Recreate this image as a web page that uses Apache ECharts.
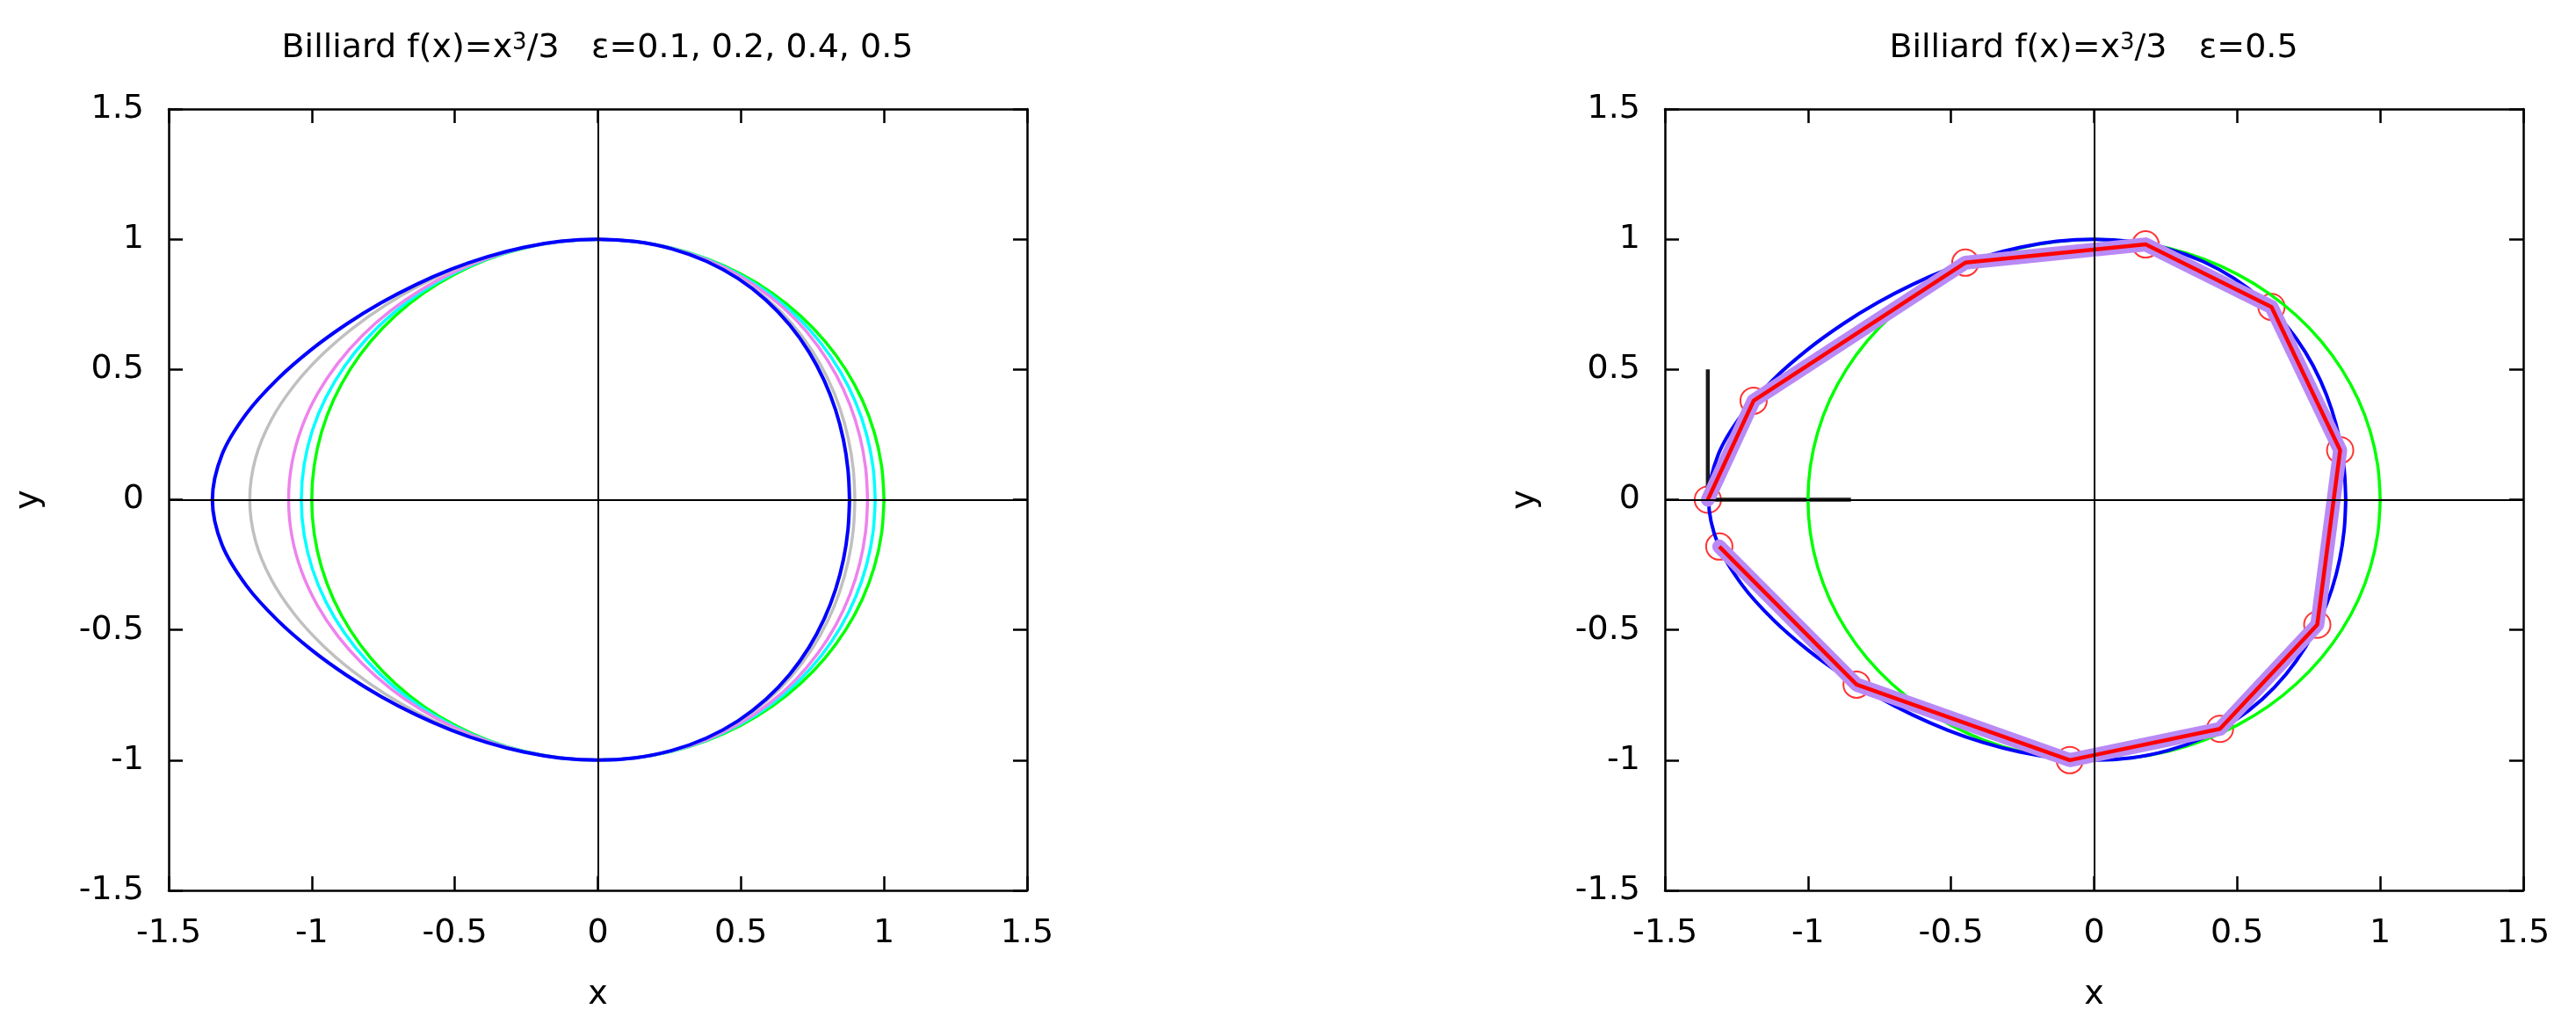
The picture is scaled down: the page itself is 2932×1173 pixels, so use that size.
<!DOCTYPE html>
<html>
<head>
<meta charset="utf-8">
<script src="https://cdn.jsdelivr.net/npm/echarts@6/dist/echarts.min.js"></script>
<style>
html, body { margin: 0; padding: 0; background: #fff; }
#billiard { width: 2932px; height: 1173px; }
</style>
</head>
<body>
<div id="billiard"></div>
<script>
// axis ticks (both panels)
var ticks = [-1.5, -1, -0.5, 0, 0.5, 1, 1.5];

// boundary curves, going round counter-clockwise from the right end
var circleX = [1, 0.9914, 0.9659, 0.9239, 0.8660, 0.7934, 0.7071, 0.6088, 0.5, 0.3827, 0.2588, 0.1305, 0, -0.1305, -0.2588, -0.3827, -0.5, -0.6088, -0.7071, -0.7934, -0.8660, -0.9239, -0.9659, -0.9914, -1,
	-0.9914, -0.9659, -0.9239, -0.8660, -0.7934, -0.7071, -0.6088, -0.5, -0.3827, -0.2588, -0.1305, 0, 0.1305, 0.2588, 0.3827, 0.5, 0.6088, 0.7071, 0.7934, 0.8660, 0.9239, 0.9659, 0.9914, 1];
var circleY = [0, 0.1305, 0.2588, 0.3827, 0.5, 0.6088, 0.7071, 0.7934, 0.8660, 0.9239, 0.9659, 0.9914, 1, 0.9914, 0.9659, 0.9239, 0.8660, 0.7934, 0.7071, 0.6088, 0.5, 0.3827, 0.2588, 0.1305, 0,
	-0.1305, -0.2588, -0.3827, -0.5, -0.6088, -0.7071, -0.7934, -0.8660, -0.9239, -0.9659, -0.9914, -1, -0.9914, -0.9659, -0.9239, -0.8660, -0.7934, -0.7071, -0.6088, -0.5, -0.3827, -0.2588, -0.1305, 0];

var eps01X = [0.9692, 0.9616, 0.9389, 0.9011, 0.8482, 0.7807, 0.6990, 0.6043, 0.4979, 0.3820, 0.2587, 0.1305, 0, -0.1305, -0.2590, -0.3834, -0.5021, -0.6134, -0.7157, -0.8071, -0.8859, -0.9499, -0.9974, -1.0266, -1.0365,
	-1.0266, -0.9974, -0.9499, -0.8859, -0.8071, -0.7157, -0.6134, -0.5021, -0.3834, -0.2590, -0.1305, 0, 0.1305, 0.2587, 0.3820, 0.4979, 0.6043, 0.6990, 0.7807, 0.8482, 0.9011, 0.9389, 0.9616, 0.9692];
var eps01Y = [0, 0.1266, 0.2516, 0.3732, 0.4897, 0.5990, 0.6990, 0.7875, 0.8625, 0.9222, 0.9654, 0.9914, 1, 0.9915, 0.9665, 0.9256, 0.8697, 0.7994, 0.7157, 0.6193, 0.5115, 0.3935, 0.2672, 0.1352, 0,
	-0.1352, -0.2672, -0.3935, -0.5115, -0.6193, -0.7157, -0.7994, -0.8697, -0.9256, -0.9665, -0.9915, -1, -0.9914, -0.9654, -0.9222, -0.8625, -0.7875, -0.6990, -0.5990, -0.4897, -0.3732, -0.2516, -0.1266, 0];

var eps02X = [0.9425, 0.9357, 0.9152, 0.8808, 0.8321, 0.7689, 0.6914, 0.5999, 0.4959, 0.3813, 0.2585, 0.1305, 0, -0.1306, -0.2591, -0.3841, -0.5043, -0.6183, -0.7248, -0.8222, -0.9083, -0.9802, -1.0348, -1.0692, -1.0809,
	-1.0692, -1.0348, -0.9802, -0.9083, -0.8222, -0.7248, -0.6183, -0.5043, -0.3841, -0.2591, -0.1306, 0, 0.1305, 0.2585, 0.3813, 0.4959, 0.5999, 0.6914, 0.7689, 0.8321, 0.8808, 0.9152, 0.9357, 0.9425];
var eps02Y = [0, 0.1232, 0.2452, 0.3648, 0.4804, 0.5900, 0.6914, 0.7818, 0.8590, 0.9205, 0.9648, 0.9913, 1, 0.9916, 0.9671, 0.9274, 0.8734, 0.8058, 0.7248, 0.6309, 0.5244, 0.4060, 0.2773, 0.1408, 0,
	-0.1408, -0.2773, -0.4060, -0.5244, -0.6309, -0.7248, -0.8058, -0.8734, -0.9274, -0.9671, -0.9916, -1, -0.9913, -0.9648, -0.9205, -0.8590, -0.7818, -0.6914, -0.5900, -0.4804, -0.3648, -0.2452, -0.1232, 0];

var eps04X = [0.8982, 0.8925, 0.8753, 0.8460, 0.8038, 0.7478, 0.6772, 0.5917, 0.4920, 0.3799, 0.2582, 0.1305, 0, -0.1306, -0.2594, -0.3856, -0.5087, -0.6286, -0.7451, -0.8574, -0.9639, -1.0608, -1.1416, -1.1968, -1.2167,
	-1.1968, -1.1416, -1.0608, -0.9639, -0.8574, -0.7451, -0.6286, -0.5087, -0.3856, -0.2594, -0.1306, 0, 0.1305, 0.2582, 0.3799, 0.4920, 0.5917, 0.6772, 0.7478, 0.8038, 0.8460, 0.8753, 0.8925, 0.8982];
var eps04Y = [0, 0.1175, 0.2345, 0.3504, 0.4641, 0.5738, 0.6772, 0.7711, 0.8522, 0.9171, 0.9637, 0.9912, 1, 0.9917, 0.9682, 0.9309, 0.8811, 0.8192, 0.7451, 0.6579, 0.5565, 0.4394, 0.3059, 0.1576, 0,
	-0.1576, -0.3059, -0.4394, -0.5565, -0.6579, -0.7451, -0.8192, -0.8811, -0.9309, -0.9682, -0.9917, -1, -0.9912, -0.9637, -0.9171, -0.8522, -0.7711, -0.6772, -0.5738, -0.4641, -0.3504, -0.2345, -0.1175, 0];

var eps05X = [0.8794, 0.8741, 0.8582, 0.8309, 0.7913, 0.7382, 0.6706, 0.5878, 0.4901, 0.3792, 0.2581, 0.1305, 0, -0.1306, -0.2596, -0.3863, -0.5110, -0.6341, -0.7564, -0.8784, -1.0000, -1.1190, -1.2289, -1.3137, -1.3473,
	-1.3137, -1.2289, -1.1190, -1.0000, -0.8784, -0.7564, -0.6341, -0.5110, -0.3863, -0.2596, -0.1306, 0, 0.1305, 0.2581, 0.3792, 0.4901, 0.5878, 0.6706, 0.7382, 0.7913, 0.8309, 0.8582, 0.8741, 0.8794];
var eps05Y = [0, 0.1151, 0.2300, 0.3442, 0.4569, 0.5665, 0.6706, 0.7660, 0.8489, 0.9154, 0.9632, 0.9911, 1, 0.9918, 0.9687, 0.9327, 0.8851, 0.8264, 0.7564, 0.6740, 0.5774, 0.4635, 0.3293, 0.1730, 0,
	-0.1730, -0.3293, -0.4635, -0.5774, -0.6740, -0.7564, -0.8264, -0.8851, -0.9327, -0.9687, -0.9918, -1, -0.9911, -0.9632, -0.9154, -0.8489, -0.7660, -0.6706, -0.5665, -0.4569, -0.3442, -0.2300, -0.1151, 0];

// billiard orbit (bounce points) for eps=0.5
var orbitX = [-1.35, -1.19, -0.45, 0.18, 0.62, 0.86, 0.78, 0.44, -0.085, -0.83, -1.31];
var orbitY = [0, 0.38, 0.91, 0.98, 0.74, 0.19, -0.48, -0.88, -1.0, -0.71, -0.18];

// start point and the two direction bars
var vectorStart = [-1.35, 0];
var vectorUp = [-1.35, 0.5];
var vectorRight = [-0.85, 0];

var font = 'DejaVu Sans';

function pairs(xs, ys) {
	return xs.map(function(x, i) { return [x, ys[i]]; });
}

function xAx(gi, pos) {
	return {
		type: 'value', gridIndex: gi, position: pos,
		min: ticks[0], max: ticks[ticks.length - 1], interval: ticks[1] - ticks[0],
		axisLine: { show: true, onZero: false, lineStyle: { color: '#000', width: 2.5 } },
		axisTick: { show: true, inside: true, length: 16, lineStyle: { color: '#000', width: 2.5 } },
		axisLabel: { show: pos === 'bottom', color: '#000', fontSize: 38, fontFamily: font, margin: 30 },
		splitLine: { show: false },
		name: pos === 'bottom' ? 'x' : '', nameLocation: 'middle', nameGap: 100,
		nameTextStyle: { color: '#000', fontSize: 38, fontFamily: font }
	};
}

function yAx(gi, pos) {
	return {
		type: 'value', gridIndex: gi, position: pos,
		min: ticks[0], max: ticks[ticks.length - 1], interval: ticks[1] - ticks[0],
		axisLine: { show: true, onZero: false, lineStyle: { color: '#000', width: 2.5 } },
		axisTick: { show: true, inside: true, length: 16, lineStyle: { color: '#000', width: 2.5 } },
		axisLabel: { show: pos === 'left', color: '#000', fontSize: 38, fontFamily: font, margin: 28 },
		splitLine: { show: false },
		name: pos === 'left' ? 'y' : '', nameLocation: 'middle', nameGap: 140,
		nameTextStyle: { color: '#000', fontSize: 38, fontFamily: font }
	};
}

function curve(gi, xs, ys, color, width) {
	return {
		type: 'line', xAxisIndex: gi * 2, yAxisIndex: gi * 2,
		data: pairs(xs, ys), smooth: 0.34, showSymbol: false, symbol: 'none',
		lineStyle: { color: color, width: width }, silent: true
	};
}

function zeroLines(gi) {
	return {
		type: 'line', xAxisIndex: gi * 2, yAxisIndex: gi * 2, data: [], silent: true,
		markLine: {
			silent: true, symbol: 'none', label: { show: false },
			lineStyle: { color: '#000', width: 2, type: 'solid' },
			data: [{ xAxis: 0 }, { yAxis: 0 }]
		}
	};
}

function bar(gi, a, b) {
	return {
		type: 'line', xAxisIndex: gi * 2, yAxisIndex: gi * 2, data: [a, b],
		showSymbol: false, symbol: 'none', silent: true,
		lineStyle: { color: '#1a1a1a', width: 4.5 }
	};
}

var chart = echarts.init(document.getElementById('billiard'));

var option = {
	animation: false,
	backgroundColor: '#fff',
	grid: [
		{ left: 192, top: 124, width: 977, height: 889 },
		{ left: 1895, top: 124, width: 977, height: 889 }
	],
	xAxis: [xAx(0, 'bottom'), xAx(0, 'top'), xAx(1, 'bottom'), xAx(1, 'top')],
	yAxis: [yAx(0, 'left'), yAx(0, 'right'), yAx(1, 'left'), yAx(1, 'right')],
	graphic: [{
		type: 'text', x: 680, y: 55,
		style: {
			text: 'Billiard f(x)=x{sup|3}/3   ε=0.1, 0.2, 0.4, 0.5',
			align: 'center', verticalAlign: 'middle',
			fontSize: 38, fontFamily: font, fill: '#000',
			rich: { sup: { fontSize: 26, fontFamily: font, verticalAlign: 'top', fill: '#000' } }
		}
	}, {
		type: 'text', x: 2383, y: 55,
		style: {
			text: 'Billiard f(x)=x{sup|3}/3   ε=0.5',
			align: 'center', verticalAlign: 'middle',
			fontSize: 38, fontFamily: font, fill: '#000',
			rich: { sup: { fontSize: 26, fontFamily: font, verticalAlign: 'top', fill: '#000' } }
		}
	}],
	series: [
		zeroLines(0),
		curve(0, circleX, circleY, '#00ff00', 3.5),
		curve(0, eps01X, eps01Y, '#00ffff', 3.5),
		curve(0, eps02X, eps02Y, '#ee82ee', 3.5),
		curve(0, eps04X, eps04Y, '#c0c0c0', 3.5),
		curve(0, eps05X, eps05Y, '#0000ff', 4),

		zeroLines(1),
		bar(1, vectorStart, vectorUp),
		bar(1, vectorStart, vectorRight),
		curve(1, circleX, circleY, '#00ff00', 3.5),
		curve(1, eps05X, eps05Y, '#0000ff', 4),
		{
			type: 'line', xAxisIndex: 2, yAxisIndex: 2, data: pairs(orbitX, orbitY),
			showSymbol: false, symbol: 'none', silent: true,
			lineStyle: { color: '#b98af6', width: 16, cap: 'round', join: 'round' }
		},
		{
			type: 'line', xAxisIndex: 2, yAxisIndex: 2, data: pairs(orbitX, orbitY),
			showSymbol: false, symbol: 'none', silent: true,
			lineStyle: { color: '#ff0000', width: 4.5 }
		},
		{
			type: 'scatter', xAxisIndex: 2, yAxisIndex: 2, data: pairs(orbitX, orbitY),
			symbol: 'circle', symbolSize: 30, silent: true,
			itemStyle: { color: 'rgba(0,0,0,0)', borderColor: '#ff0000', borderWidth: 2 }
		}
	]
};
chart.setOption(option);
</script>
</body>
</html>
